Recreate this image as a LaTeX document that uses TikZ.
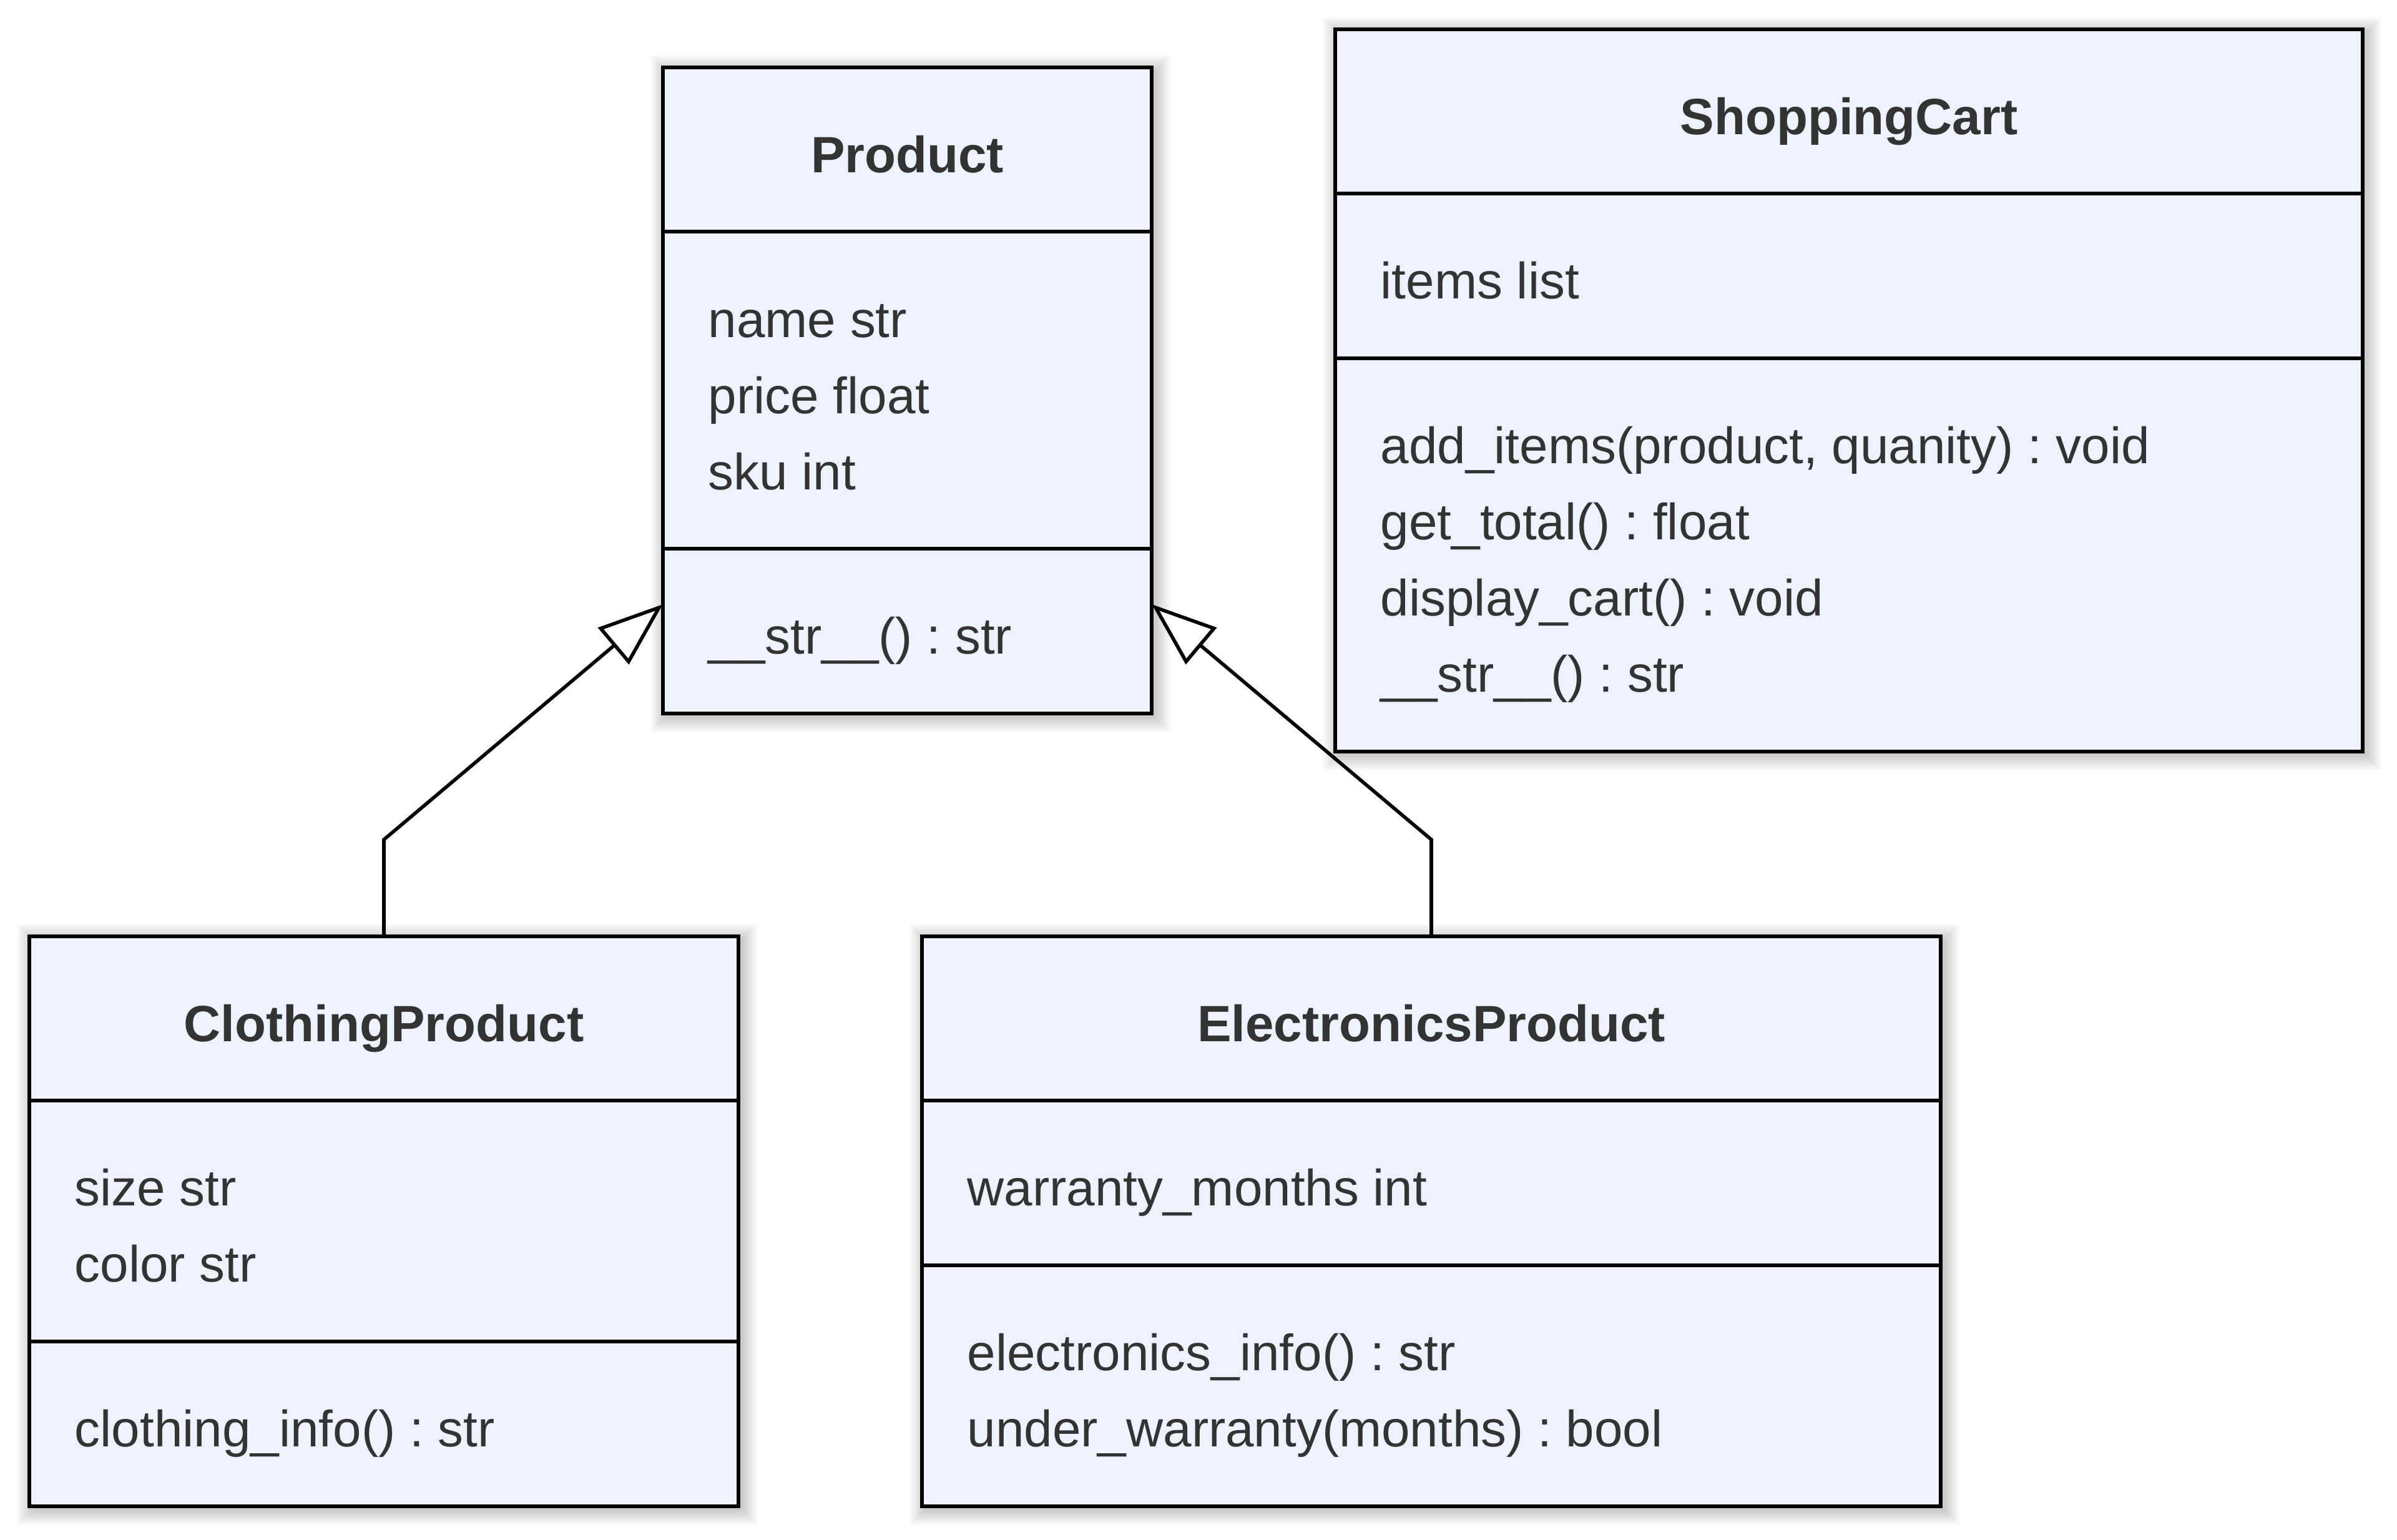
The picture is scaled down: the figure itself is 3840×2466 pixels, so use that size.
\documentclass[tikz,border=0pt]{standalone}
\usepackage{fontspec}
\setmainfont{Liberation Sans}
\frenchspacing
\usetikzlibrary{arrows.meta}
\definecolor{boxfill}{RGB}{238,242,253}
\definecolor{txtc}{RGB}{51,51,51}
\tikzset{
  classbox/.style={draw=black, line width=1.7pt, fill=boxfill, rectangle, inner sep=0pt, outer sep=0pt, anchor=north west},
  divider/.style={draw=black, line width=1.7pt},
  member/.style={anchor=base west, inner sep=0pt, text=txtc, font=\fontsize{20.45}{24}\selectfont},
  clstitle/.style={anchor=base, inner sep=0pt, text=txtc, font=\fontsize{20.45}{24}\selectfont\bfseries},
  inherit/.style={draw=black, line width=1.4pt, -{Triangle[length=26pt,width=19pt,fill=white]}},
}
\newcommand\boxshadow[4]{%
  \foreach \i in {1,...,10}{%
    \fill[black,opacity=0.02] ({#1-2.5*\i+5},{#2-2.5*\i+5}) rectangle ({#3+2.5*\i+5},{#4+2.5*\i+5});
  }%
}
\begin{document}
\begin{tikzpicture}[x=0.25pt,y=-0.25pt]
\useasboundingbox (0,0) rectangle (3840,2466);
\fill[white] (0,0) rectangle (3840,2466);

% shadows
\boxshadow{1062}{108}{1845}{1143}
\boxshadow{2139}{47}{3785}{1204}
\boxshadow{47}{1500}{1183}{2413}
\boxshadow{1477}{1500}{3109}{2413}

% Product
\node[classbox, minimum width=195.75pt, minimum height=258.75pt] (product) at (1062,108) {};
\draw[divider] (product.west |- 0,371) -- (product.east |- 0,371);
\draw[divider] (product.west |- 0,879) -- (product.east |- 0,879);
\node[clstitle] (productT) at (1453.5,276) {Product};
\node[member] (p1) at (1134,540) {name str};
\node[member] (p2) at (1134,662) {price float};
\node[member] (p3) at (1134,784) {sku int};
\node[member] (p4) at (1134,1047) {\_\_str\_\_() : str};

% ShoppingCart
\node[classbox, minimum width=411.5pt, minimum height=289.25pt] (cart) at (2139,47) {};
\draw[divider] (cart.west |- 0,310) -- (cart.east |- 0,310);
\draw[divider] (cart.west |- 0,574) -- (cart.east |- 0,574);
\node[clstitle] (cartT) at (2962,215) {ShoppingCart};
\node[member] (c1) at (2211,478) {items list};
\node[member] (c2) at (2211,742) {add\_items(product, quanity) : void};
\node[member] (c3) at (2211,864) {get\_total() : float};
\node[member] (c4) at (2211,986) {display\_cart() : void};
\node[member] (c5) at (2211,1108) {\_\_str\_\_() : str};

% ClothingProduct
\node[classbox, minimum width=284pt, minimum height=228.25pt] (clothing) at (47,1500) {};
\draw[divider] (clothing.west |- 0,1763) -- (clothing.east |- 0,1763);
\draw[divider] (clothing.west |- 0,2149) -- (clothing.east |- 0,2149);
\node[clstitle] (clothingT) at (615,1668) {ClothingProduct};
\node[member] (k1) at (119,1931) {size str};
\node[member] (k2) at (119,2053) {color str};
\node[member] (k3) at (119,2317) {clothing\_info() : str};

% ElectronicsProduct
\node[classbox, minimum width=408pt, minimum height=228.25pt] (electronics) at (1477,1500) {};
\draw[divider] (electronics.west |- 0,1763) -- (electronics.east |- 0,1763);
\draw[divider] (electronics.west |- 0,2027) -- (electronics.east |- 0,2027);
\node[clstitle] (electronicsT) at (2293,1668) {ElectronicsProduct};
\node[member] (e1) at (1549,1931) {warranty\_months int};
\node[member] (e2) at (1549,2195) {electronics\_info() : str};
\node[member] (e3) at (1549,2317) {under\_warranty(months) : bool};

% inheritance connectors
\draw[inherit] (clothing.north) -- (clothing.north |- 0,1345) -- (product.west |- 0,968);
\draw[inherit] (electronics.north) -- (electronics.north |- 0,1345) -- (product.east |- 0,968);
\end{tikzpicture}
\end{document}
